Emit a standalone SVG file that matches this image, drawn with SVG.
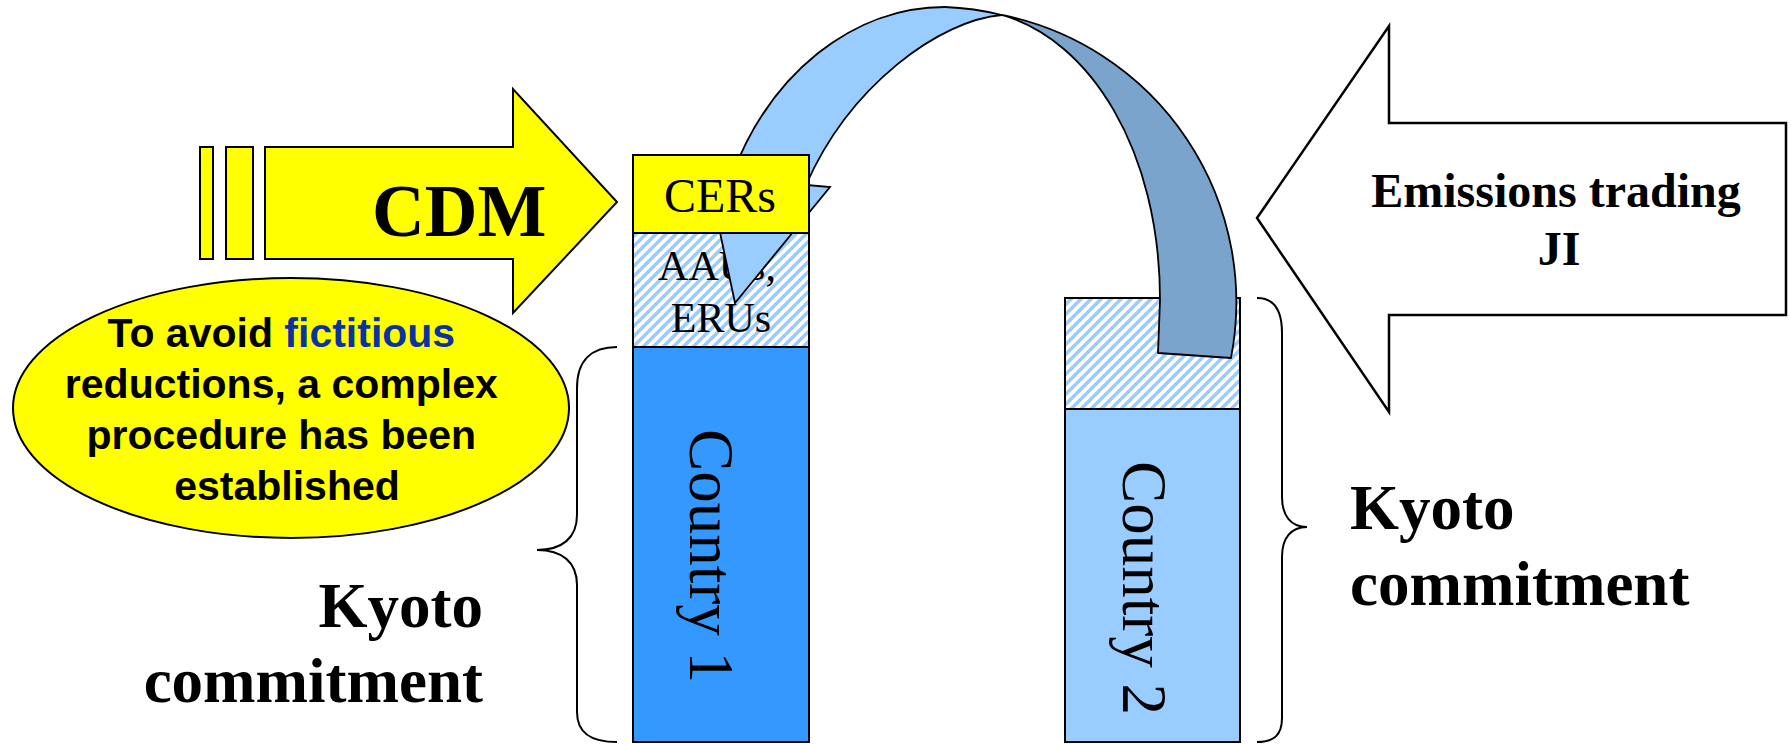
<svg xmlns="http://www.w3.org/2000/svg" width="1791" height="744" viewBox="0 0 1791 744">
<style>
.ln{stroke:#000;stroke-width:2;stroke-linejoin:miter}
.yel{fill:#ffff00}
.serif{font-family:"Liberation Serif","Times New Roman",serif}
.sans{font-family:"Liberation Sans",Arial,sans-serif}
.b{font-weight:bold}
.brace{fill:none;stroke:#000;stroke-width:2}
</style>
<defs>
<pattern id="hatch" patternUnits="userSpaceOnUse" width="10" height="10">
<rect width="10" height="10" fill="#ffffff"/>
<path d="M-2.5,2.5 L2.5,-2.5 M0,10 L10,0 M7.5,12.5 L12.5,7.5" stroke="#99ccff" stroke-width="3.5"/>
</pattern>
</defs>
<rect width="1791" height="744" fill="#ffffff"/>

<g id="cdm-arrow">
<rect class="ln yel" x="200" y="147" width="13" height="112"/>
<rect class="ln yel" x="226" y="147" width="27" height="112"/>
<polygon class="ln yel" points="265,147 513,147 513,89 617,202 513,313 513,259 265,259"/>
<text class="serif b" x="372" y="236" font-size="73">CDM</text>
</g>

<g id="emissions-arrow">
<polygon points="1257,218 1389,26 1389,123 1786,123 1786,315 1389,315 1389,412" fill="#ffffff" stroke="#000" stroke-width="2.5"/>
<text class="serif b" x="1556" y="207" font-size="48" text-anchor="middle">Emissions trading</text>
<text class="serif b" x="1559" y="265" font-size="48" text-anchor="middle">JI</text>
</g>

<g id="note">
<ellipse class="ln yel" cx="291" cy="408" rx="278" ry="130"/>
<text class="sans b" font-size="41" text-anchor="middle">
<tspan x="287" y="347">To avoid <tspan fill="#0a32a0">fictitious</tspan></tspan>
<tspan x="287" y="398">reductions, a complex</tspan>
<tspan x="287" y="449">procedure has been</tspan>
<tspan x="287" y="500">established</tspan>
</text>
</g>

<g id="country1">
<rect class="ln" x="633" y="347" width="176" height="395" fill="#3399ff"/>
<rect class="ln" x="633" y="233" width="176" height="114" fill="url(#hatch)"/>
<text class="serif" x="717" y="280" font-size="42" text-anchor="middle">AAUs,</text>
<text class="serif" x="721" y="332" font-size="42" text-anchor="middle">ERUs</text>
<text class="serif" font-size="63" text-anchor="middle" transform="translate(690,556) rotate(90)">Country 1</text>
</g>

<g id="country2">
<rect class="ln" x="1065" y="409" width="175" height="333" fill="#99ccff"/>
<rect class="ln" x="1065" y="298" width="175" height="111" fill="url(#hatch)"/>
<text class="serif" font-size="63" text-anchor="middle" transform="translate(1123,588) rotate(90)">Country 2</text>
</g>

<g id="connectors">
<path d="M1002,15 A292,293 0 0 1 1231,358 L1158,353 L1160,300 C1160,150 1090,40 1002,15 Z" fill="#7ba4cd" stroke="#000" stroke-width="1.8" stroke-linejoin="round"/>
<path d="M708,176 L731,178 A235,293 0 0 1 945,7 A292,293 0 0 1 1002,15 C940,20 850,85 806,185 L830,187 L735,303 Z" fill="#99ccff" stroke="#000" stroke-width="1.8" stroke-linejoin="miter"/>
</g>

<g id="cers">
<rect class="ln yel" x="633" y="155" width="176" height="78"/>
<text class="serif" x="720" y="212" font-size="48" text-anchor="middle">CERs</text>
</g>

<g id="kyoto-left">
<path class="brace" d="M617,347 C592,347 577,360 577,388 L577,515 C577,538 562,550 537,550 C562,550 577,562 577,585 L577,712 C577,734 592,742 617,742"/>
<text class="serif b" x="483" y="627" font-size="63" text-anchor="end">Kyoto</text>
<text class="serif b" x="483" y="702" font-size="63" text-anchor="end">commitment</text>
</g>

<g id="kyoto-right">
<path class="brace" d="M1257,298 C1274,298 1282,310 1282,333 L1282,497 C1282,516 1291,527 1307,527 C1291,527 1282,538 1282,557 L1282,718 C1282,735 1274,742 1257,742"/>
<text class="serif b" x="1350" y="529" font-size="63">Kyoto</text>
<text class="serif b" x="1350" y="605" font-size="63">commitment</text>
</g>
</svg>
